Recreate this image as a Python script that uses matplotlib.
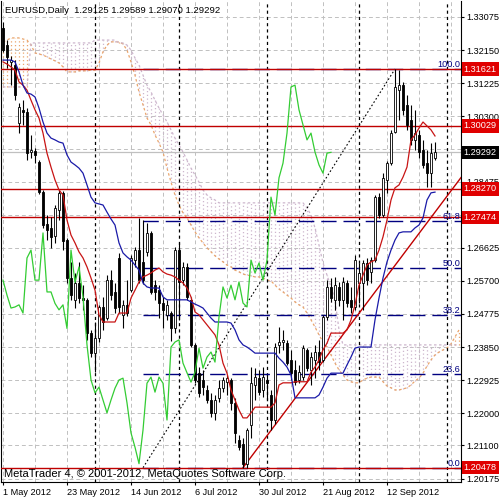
import matplotlib.pyplot as plt
import matplotlib.transforms as mtransforms
import numpy as np

plt.rcParams['font.family'] = ['Liberation Sans', 'DejaVu Sans']

# EURUSD daily bars, bar 0 = 1 May 2012
opens = [1.3277, 1.3229, 1.3182, 1.3173, 1.3011, 1.3048, 1.3042, 1.2930, 1.2933, 1.2902,
         1.2818, 1.2728, 1.2717, 1.2695, 1.2768, 1.2815, 1.2684, 1.2577, 1.2517, 1.2564,
         1.2521, 1.2517, 1.2425, 1.2369, 1.2410, 1.2497, 1.2466, 1.2572, 1.2539, 1.2634,
         1.2475, 1.2503, 1.2544, 1.2628, 1.2656, 1.2623, 1.2650, 1.2704, 1.2558, 1.2544,
         1.2507, 1.2475, 1.2479, 1.2437, 1.2656, 1.2572, 1.2609, 1.2517, 1.2391, 1.2312,
         1.2293, 1.2265, 1.2237, 1.2201, 1.2242, 1.2270, 1.2287, 1.2293, 1.2229, 1.2125,
         1.2115, 1.2059, 1.2167, 1.2279, 1.2298, 1.2265, 1.2293, 1.2251, 1.2181, 1.2391,
         1.2399, 1.2396, 1.2349, 1.2321, 1.2293, 1.2301, 1.2377, 1.2321, 1.2349, 1.2371,
         1.2349, 1.2469, 1.2553, 1.2517, 1.2553, 1.2517, 1.2564, 1.2517, 1.2497, 1.2564,
         1.2564, 1.2620, 1.2595, 1.2628, 1.2804, 1.2754, 1.2852, 1.2899, 1.2986, 1.3103,
         1.3117, 1.3062, 1.3020, 1.2964, 1.2978, 1.2936, 1.2899, 1.2871, 1.29125]
highs = [1.3294, 1.3243, 1.3198, 1.3187, 1.3067, 1.3075, 1.3053, 1.2978, 1.2941, 1.2908,
         1.2824, 1.2754, 1.2748, 1.2782, 1.2824, 1.2821, 1.2689, 1.2622, 1.2591, 1.2622,
         1.2558, 1.2522, 1.2433, 1.2455, 1.2503, 1.2525, 1.2586, 1.2600, 1.2564, 1.2648,
         1.2517, 1.2572, 1.2642, 1.2665, 1.2746, 1.2740, 1.2732, 1.2709, 1.2572, 1.2558,
         1.2525, 1.2517, 1.2487, 1.2665, 1.2678, 1.2622, 1.2619, 1.2525, 1.2396, 1.2329,
         1.2321, 1.2279, 1.2257, 1.2251, 1.2293, 1.2301, 1.2307, 1.2298, 1.2243, 1.2139,
         1.2131, 1.2159, 1.2329, 1.2326, 1.2321, 1.2329, 1.2307, 1.2265, 1.2396, 1.2441,
         1.2433, 1.2405, 1.2377, 1.2349, 1.2335, 1.2391, 1.2382, 1.2371, 1.2391, 1.2405,
         1.2475, 1.2572, 1.2578, 1.2581, 1.2567, 1.2581, 1.2572, 1.2553, 1.2642, 1.2620,
         1.2628, 1.2634, 1.2637, 1.2810, 1.2816, 1.2872, 1.2905, 1.2992, 1.31621, 1.3160,
         1.3126, 1.3089, 1.3062, 1.3048, 1.2992, 1.2964, 1.2936, 1.2955, 1.29589]
lows = [1.3210, 1.3165, 1.3117, 1.3075, 1.2983, 1.3006, 1.2908, 1.2913, 1.2899, 1.2812,
        1.2717, 1.2684, 1.2661, 1.2675, 1.2740, 1.2656, 1.2563, 1.2517, 1.2493, 1.2508,
        1.2489, 1.2405, 1.2357, 1.2315, 1.2399, 1.2433, 1.2461, 1.2517, 1.2480, 1.2480,
        1.2438, 1.2472, 1.2539, 1.2609, 1.2564, 1.2561, 1.2640, 1.2533, 1.2517, 1.2467,
        1.2439, 1.2461, 1.2403, 1.2423, 1.2461, 1.2558, 1.2517, 1.2385, 1.2284, 1.2245,
        1.2251, 1.2229, 1.2190, 1.2181, 1.2231, 1.2259, 1.2251, 1.2209, 1.2117, 1.2097,
        1.20478, 1.2048, 1.2131, 1.2237, 1.2251, 1.2245, 1.2237, 1.2153, 1.2171, 1.2369,
        1.2377, 1.2335, 1.2293, 1.2279, 1.2284, 1.2293, 1.2318, 1.2279, 1.2299, 1.2321,
        1.2343, 1.2461, 1.2511, 1.2489, 1.2500, 1.2461, 1.2497, 1.2480, 1.2489, 1.2508,
        1.2489, 1.2558, 1.2564, 1.2623, 1.2746, 1.2748, 1.2816, 1.2894, 1.2983, 1.3020,
        1.3034, 1.2992, 1.2950, 1.2936, 1.2913, 1.2885, 1.2832, 1.2832, 1.29070]
closes = [1.3215, 1.3196, 1.3187, 1.3089, 1.3056, 1.3042, 1.2927, 1.2936, 1.2922, 1.2818,
          1.2726, 1.2712, 1.2692, 1.2773, 1.2815, 1.2681, 1.2577, 1.2530, 1.2564, 1.2521,
          1.2517, 1.2425, 1.2369, 1.2410, 1.2497, 1.2455, 1.2572, 1.2530, 1.2494, 1.2497,
          1.2503, 1.2480, 1.2634, 1.2656, 1.2572, 1.2572, 1.2704, 1.2539, 1.2539, 1.2507,
          1.2489, 1.2503, 1.2437, 1.2656, 1.2566, 1.2609, 1.2525, 1.2391, 1.2293, 1.2257,
          1.2273, 1.2237, 1.2201, 1.2237, 1.2270, 1.2293, 1.2298, 1.2229, 1.2145, 1.2105,
          1.2059, 1.2153, 1.2284, 1.2301, 1.2259, 1.2301, 1.2284, 1.2181, 1.2385, 1.2399,
          1.2405, 1.2340, 1.2313, 1.2287, 1.2315, 1.2382, 1.2326, 1.2357, 1.2371, 1.2343,
          1.2469, 1.2553, 1.2522, 1.2558, 1.2517, 1.2567, 1.2508, 1.2497, 1.2628, 1.2592,
          1.2620, 1.2572, 1.2628, 1.2804, 1.2754, 1.2858, 1.2899, 1.2983, 1.3112, 1.3117,
          1.3048, 1.3006, 1.2964, 1.2983, 1.2930, 1.2894, 1.2871, 1.2927, 1.29292]

# Ichimoku lines as drawn on the chart
tenkan = [1.3182, 1.3176, 1.3168, 1.3159, 1.3126, 1.3117, 1.3103, 1.3075, 1.3048, 1.3025,
          1.2983, 1.2927, 1.2888, 1.2852, 1.2824, 1.2810, 1.2740, 1.2698, 1.2676, 1.2651,
          1.2634, 1.2609, 1.2578, 1.2544, 1.2475, 1.2455, 1.2455, 1.2455, 1.2455, 1.2480,
          1.2480, 1.2480, 1.2522, 1.2544, 1.2567, 1.2581, 1.2586, 1.2592, 1.2600, 1.2606,
          1.2595, 1.2589, 1.2586, 1.2581, 1.2572, 1.2564, 1.2550, 1.2525, 1.2483, 1.2475,
          1.2461, 1.2447, 1.2433, 1.2419, 1.2391, 1.2340, 1.2312, 1.2265, 1.2237, 1.2209,
          1.2187, 1.2187, 1.2201, 1.2217, 1.2217, 1.2217, 1.2217, 1.2217, 1.2229, 1.2279,
          1.2285, 1.2285, 1.2285, 1.2288, 1.2288, 1.2288, 1.2288, 1.2315, 1.2329, 1.2349,
          1.2377, 1.2396, 1.2424, 1.2424, 1.2424, 1.2424, 1.2433, 1.2461, 1.2503, 1.2558,
          1.2586, 1.2614, 1.2623, 1.2628, 1.2656, 1.2693, 1.2740, 1.2796, 1.2830, 1.2838,
          1.2860, 1.2888, 1.2964, 1.2978, 1.2997, 1.3014, 1.3003, 1.2992, 1.2975]
kijun = [1.3187, 1.3187, 1.3187, 1.3182, 1.3154, 1.3117, 1.3095, 1.3092, 1.3084, 1.3053,
         1.3014, 1.2983, 1.2969, 1.2964, 1.2958, 1.2955, 1.2922, 1.2902, 1.2894, 1.2885,
         1.2871, 1.2838, 1.2804, 1.2788, 1.2785, 1.2782, 1.2762, 1.2743, 1.2726, 1.2676,
         1.2648, 1.2637, 1.2628, 1.2614, 1.2600, 1.2564, 1.2553, 1.2550, 1.2550, 1.2550,
         1.2525, 1.2517, 1.2517, 1.2517, 1.2517, 1.2517, 1.2517, 1.2511, 1.2505, 1.2500,
         1.2494, 1.2480, 1.2466, 1.2455, 1.2455, 1.2455, 1.2455, 1.2452, 1.2433, 1.2405,
         1.2391, 1.2385, 1.2377, 1.2368, 1.2368, 1.2368, 1.2368, 1.2368, 1.2368, 1.2354,
         1.2343, 1.2329, 1.2307, 1.2243, 1.2243, 1.2243, 1.2243, 1.2243, 1.2243, 1.2251,
         1.2273, 1.2298, 1.2312, 1.2312, 1.2312, 1.2312, 1.2335, 1.2357, 1.2382, 1.2385,
         1.2385, 1.2385, 1.2385, 1.2461, 1.2522, 1.2578, 1.2623, 1.2656, 1.2684, 1.2704,
         1.2707, 1.2707, 1.2707, 1.2718, 1.2726, 1.2746, 1.2796, 1.2816, 1.2818]
# senkou spans run 6 bars past the last candle (to the right edge)
span_a = [1.3238, 1.3243, 1.3249, 1.3249, 1.3249, 1.3246, 1.3243, 1.3229, 1.3207, 1.3204,
          1.3201, 1.3196, 1.3190, 1.3185, 1.3179, 1.3168, 1.3154, 1.3154, 1.3154, 1.3157,
          1.3157, 1.3157, 1.3159, 1.3159, 1.3179, 1.3210, 1.3229, 1.3238, 1.3238, 1.3238,
          1.3232, 1.3215, 1.3182, 1.3145, 1.3098, 1.3062, 1.3025, 1.3006, 1.2978, 1.2955,
          1.2930, 1.2885, 1.2846, 1.2810, 1.2782, 1.2760, 1.2746, 1.2726, 1.2707, 1.2690,
          1.2676, 1.2662, 1.2651, 1.2640, 1.2631, 1.2623, 1.2614, 1.2609, 1.2600, 1.2595,
          1.2589, 1.2586, 1.2584, 1.2581, 1.2581, 1.2578, 1.2572, 1.2570, 1.2558, 1.2547,
          1.2539, 1.2530, 1.2522, 1.2511, 1.2503, 1.2497, 1.2480, 1.2461, 1.2441, 1.2419,
          1.2399, 1.2385, 1.2363, 1.2340, 1.2321, 1.2307, 1.2293, 1.2288, 1.2285, 1.2285,
          1.2293, 1.2298, 1.2301, 1.2301, 1.2301, 1.2288, 1.2276, 1.2271, 1.2265, 1.2265,
          1.2268, 1.2271, 1.2279, 1.2290, 1.2298, 1.2312, 1.2332, 1.2349, 1.2363, 1.2371,
          1.2377, 1.2382, 1.2394, 1.2413, 1.2433]
span_b = ([1.3112] * 7 + [1.3235] * 16 + [1.3243] * 6 + [1.3235] * 2 +
          [1.3229, 1.3215, 1.3193, 1.3173, 1.3145, 1.3117, 1.3098, 1.3075, 1.3053, 1.3034,
           1.3014, 1.2992, 1.2969, 1.2950, 1.2930, 1.2908, 1.2885, 1.2866, 1.2846, 1.2824,
           1.2810, 1.2802, 1.2796] +
          [1.2788] * 22 +
          [1.2774, 1.2754, 1.2718, 1.2670, 1.2620, 1.2586, 1.2553, 1.2517, 1.2433] +
          [1.2391] * 30)
chikou_shift = 26

# horizontal levels and objects
red_levels = [1.31621, 1.30029, 1.28270, 1.27474, 1.20478]
bid = 1.29292
fib_low, fib_high = 1.20478, 1.31621
fib_bars = [35, 98]
fib_ratios = [0.0, 23.6, 38.2, 50.0, 61.8, 100.0]
trend_bars = [60, 108]
trend_prices = [1.20478, 1.2762]
separators = [23, 44, 66, 89, 111]

price_ticks = [1.33075, 1.32150, 1.31225, 1.30300, 1.29375, 1.28475, 1.27550, 1.26625,
               1.25700, 1.24775, 1.23850, 1.22925, 1.22000, 1.21100, 1.20175]
hidden_ticks = [1.29375, 1.27550]  # covered by the price boxes
date_ticks = [0, 16, 32, 48, 64, 80, 96]
date_labels = ['1 May 2012', '23 May 2012', '14 Jun 2012', '6 Jul 2012',
               '30 Jul 2012', '21 Aug 2012', '12 Sep 2012']

fig = plt.figure(figsize=(5, 5), dpi=100)
ax = fig.add_axes([0.002, 0.036, 0.92, 0.962])
x_right = 114.5
ax.set_xlim(-0.5, x_right)
ax.set_ylim(1.20078, 1.33522)

# grid
for x in range(0, 115, 8):
    ax.axvline(x, color='#c0c0c0', lw=0.7, ls=(0, (4, 3)), zorder=0)
for p in price_ticks:
    ax.axhline(p, color='#c0c0c0', lw=0.7, ls=(0, (4, 3)), zorder=0)

# kumo
a = np.array(span_a)
b = np.array(span_b)
cb = np.arange(len(a))
kumo_col = np.where(a >= b, '#eaa56c', '#cdb6cd')
ax.vlines(cb, np.minimum(a, b), np.maximum(a, b), colors=kumo_col, lw=0.9,
          linestyles=(0, (1, 2)), zorder=1)
ax.plot(cb, a, color='#eaa56c', lw=0.9, ls=(0, (2, 2)), zorder=1)
ax.plot(cb, b, color='#cdb6cd', lw=0.9, ls=(0, (2, 2)), zorder=1)

# period separators
for s in separators:
    ax.axvline(s, color='black', lw=0.9, ls=(0, (2.5, 2.5)), zorder=2)

# bid line
ax.axhline(bid, color='#c0c0c0', lw=0.9, zorder=2)

# fibo
fib_prices = [fib_low + r / 100 * (fib_high - fib_low) for r in fib_ratios]
for r, p in zip(fib_ratios, fib_prices):
    ax.plot([fib_bars[0], x_right], [p, p], color='#000080', lw=1.0, ls=(0, (11, 5)), zorder=2)
    ax.text(0.998, p, '%.1f' % r, transform=ax.get_yaxis_transform(), ha='right',
            va='bottom', fontsize=6.6, color='#000080', zorder=6)
ax.plot(fib_bars, [fib_low, fib_high], color='black', lw=0.8, ls=(0, (1.5, 2)), zorder=2)

# red levels
for p in red_levels:
    ax.axhline(p, color='#c00000', lw=1.0, zorder=3)

# trend line (ray)
slope = (trend_prices[1] - trend_prices[0]) / (trend_bars[1] - trend_bars[0])
ax.plot([trend_bars[0], x_right],
        [trend_prices[0], trend_prices[0] + slope * (x_right - trend_bars[0])],
        color='#c00000', lw=1.0, zorder=3)

# candles
o = np.array(opens)
h = np.array(highs)
l = np.array(lows)
c = np.array(closes)
bars = np.arange(len(c))
ax.vlines(bars, l, h, color='black', lw=0.8, zorder=4)
up = c >= o
ax.bar(bars[up], np.maximum(c[up] - o[up], 0.00008), bottom=o[up], width=0.7,
       color='white', edgecolor='black', lw=0.6, zorder=5)
ax.bar(bars[~up], np.maximum(o[~up] - c[~up], 0.00008), bottom=c[~up], width=0.7,
       color='black', edgecolor='black', lw=0.6, zorder=5)

# ichimoku lines
ax.plot(bars, tenkan, color='#c81414', lw=0.9, zorder=6)
ax.plot(bars, kijun, color='#1a1aa8', lw=0.9, zorder=6)
ax.plot(bars[:-chikou_shift], c[chikou_shift:], color='#33cc33', lw=0.9, zorder=6)

# axes
ax.spines['top'].set_visible(False)
ax.yaxis.tick_right()
ax.set_yticks(price_ticks, ['' if p in hidden_ticks else '%.5f' % p for p in price_ticks])
ax.set_xticks(date_ticks, date_labels, ha='left')
ax.tick_params(axis='both', labelsize=6.6, length=2.5, width=0.8, pad=1.5, colors='black')

# price boxes on the scale
trans = mtransforms.blended_transform_factory(ax.transAxes, ax.transData)
for p in red_levels:
    ax.text(1.006, p, '%.5f' % p, transform=trans, ha='left', va='center', fontsize=6.6,
            color='white', clip_on=False, zorder=10,
            bbox=dict(facecolor='#e00000', edgecolor='none', pad=1.6))
ax.text(1.006, bid, '%.5f' % bid, transform=trans, ha='left', va='center', fontsize=6.6,
        color='white', clip_on=False, zorder=10,
        bbox=dict(facecolor='black', edgecolor='none', pad=1.6))

fig.text(0.01, 0.979, 'EURUSD,Daily  1.29125 1.29589 1.29070 1.29292', fontsize=6.8,
         va='center', ha='left')
fig.text(0.008, 0.052, 'MetaTrader 4, \u00a9 2001-2012, MetaQuotes Software Corp.',
         fontsize=8, va='center', ha='left')

fig.savefig('out.png', dpi=100)
